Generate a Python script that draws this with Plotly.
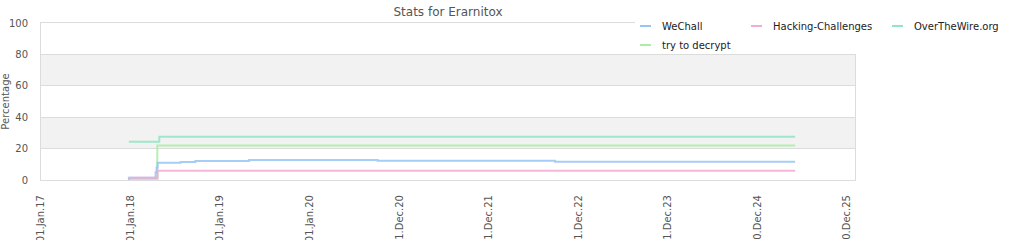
import plotly.graph_objects as go

# ---- data ----
wechall_dates = ["2017-12-22", "2017-12-25", "2018-04-13", "2018-04-17", "2018-04-21",
                 "2018-07-24", "2018-09-22", "2019-04-29", "2020-10-04", "2022-09-27", "2025-06-01"]
wechall_vals = [0.5, 1.5, 5.0, 8.0, 11.0, 11.5, 12.1, 12.7, 12.3, 11.7, 11.7]

hc_dates = ["2017-12-25", "2018-04-21", "2025-06-01"]
hc_vals = [1.5, 5.9, 5.9]

otw_dates = ["2017-12-25", "2018-04-28", "2025-06-01"]
otw_vals = [24.3, 27.6, 27.6]

ttd_dates = ["2017-12-25", "2018-04-20", "2025-06-01"]
ttd_vals = [0.3, 21.9, 21.9]

series_names = ["WeChall", "Hacking-Challenges", "OverTheWire.org", "try to decrypt"]
series_colors = ["#96c5f4", "#f4aad2", "#90e6c4", "#aaeea6"]

tick_dates = ["2017-01-01", "2018-01-01", "2019-01-01", "2020-01-01", "2020-12-31",
              "2021-12-31", "2022-12-31", "2023-12-31", "2024-12-30", "2025-12-30"]
tick_text = ["01.Jan.17", "01.Jan.18", "01.Jan.19", "01.Jan.20", "31.Dec.20",
             "31.Dec.21", "31.Dec.22", "31.Dec.23", "30.Dec.24", "30.Dec.25"]

FONT = "DejaVu Sans"
W, H = 1024, 240
L, R, T, B = 41, 169, 23, 60
PW, PH = W - L - R, H - T - B

def px(x):
    return (x - L) / PW

def py(y):
    return (H - B - y) / PH

fig = go.Figure()
data = [(wechall_dates, wechall_vals), (hc_dates, hc_vals), (otw_dates, otw_vals), (ttd_dates, ttd_vals)]
draw_order = [2, 3, 0, 1]
for i in draw_order:
    d, v = data[i]
    fig.add_trace(go.Scatter(x=d, y=v, mode="lines", name=series_names[i],
                             line=dict(color=series_colors[i], width=2, shape="hv"),
                             opacity=0.85, showlegend=False, hoverinfo="skip"))

shapes = []
# alternating bands
for y0, y1 in [(20, 40), (60, 80)]:
    shapes.append(dict(type="rect", xref="paper", yref="y", x0=0, x1=1, y0=y0, y1=y1,
                       fillcolor="#f2f2f2", line=dict(width=0), layer="below"))
# legend background
shapes.append(dict(type="rect", xref="paper", yref="paper", x0=px(635), x1=px(1024),
                   y0=py(54), y1=py(0), fillcolor="white", line=dict(width=0), layer="above"))

annotations = []
legend_pos = [(640, 26), (751, 26), (892, 26), (640, 45)]
for i, (lx, ly) in enumerate(legend_pos):
    shapes.append(dict(type="line", xref="paper", yref="paper", x0=px(lx), x1=px(lx + 11),
                       y0=py(ly), y1=py(ly), line=dict(color=series_colors[i], width=2), layer="above"))
    annotations.append(dict(xref="paper", yref="paper", x=px(lx + 20), y=py(ly), text=series_names[i],
                            showarrow=False, xanchor="left", yanchor="middle",
                            font=dict(family=FONT, size=10, color="#222")))

fig.update_layout(
    width=W, height=H,
    margin=dict(l=L, r=R, t=T, b=B, autoexpand=False),
    paper_bgcolor="white", plot_bgcolor="white",
    title=dict(text="Stats for Erarnitox", x=0.5, xanchor="center", xref="paper",
               y=1 - 12 / H, yref="container", yanchor="middle",
               font=dict(family=FONT, size=12, color="#555")),
    font=dict(family=FONT, size=10, color="#555"),
    shapes=shapes, annotations=annotations,
    showlegend=False,
)
fig.update_xaxes(type="date", range=["2017-01-01", "2026-01-31"], automargin=False,
                 tickvals=tick_dates, ticktext=tick_text, tickangle=-90,
                 showgrid=False, zeroline=False, showline=True, mirror=True,
                 linecolor="#dcdcdc", linewidth=1, ticks="",
                 tickfont=dict(family=FONT, size=10, color="#555"), ticklabelstandoff=10)
fig.update_yaxes(range=[0, 100], dtick=20, showgrid=True, gridcolor="#dcdcdc", automargin=False,
                 zeroline=False, showline=True, mirror=True, linecolor="#dcdcdc", linewidth=1,
                 ticks="", tickfont=dict(family=FONT, size=10, color="#555"),
                 ticklabelstandoff=10,
                 title=dict(text="Percentage", standoff=4, font=dict(family=FONT, size=10, color="#555")))

fig.write_html("out.html")
